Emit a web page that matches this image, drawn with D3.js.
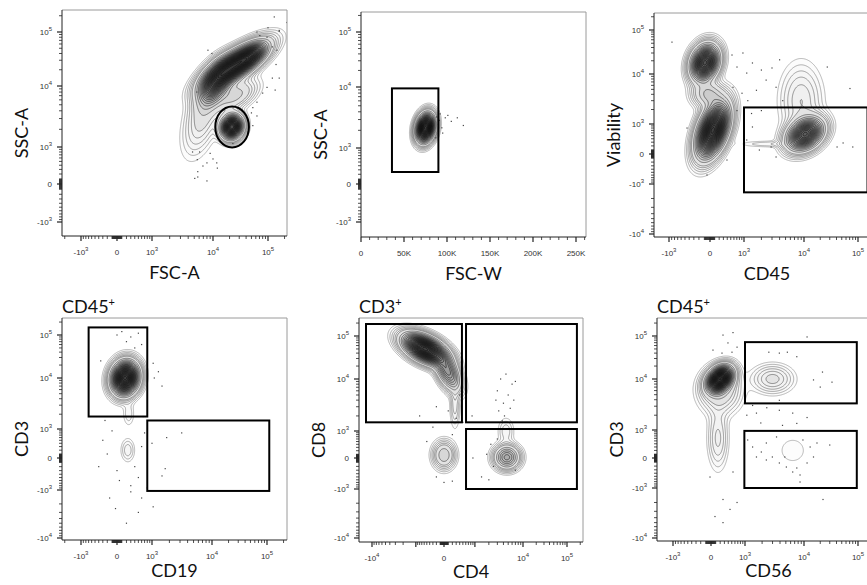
<!DOCTYPE html>
<html>
<head>
<meta charset="utf-8">
<script src="https://cdn.jsdelivr.net/npm/d3@7"></script>
<style>
  body { margin: 0; background: #fff; }
  svg { display: block; }
</style>
</head>
<body>
<div id="chart"></div>
<script>
// ---------- data ----------
const xLabels = ["FSC-A", "FSC-W", "CD45", "CD19", "CD4", "CD56"];
const yLabels = ["SSC-A", "SSC-A", "Viability", "CD3", "CD8", "CD3"];
const parentGates = [null, null, null, "CD45", "CD3", "CD45"];

const logTicksX = [-1e3, 0, 1e3, 1e4, 1e5];
const logTicksY = [-1e3, 0, 1e3, 1e4, 1e5];
const logTicksWide = [-1e4, -1e3, 0, 1e3, 1e4, 1e5];
const cd4Ticks = [-1e4, 0, 1e4, 1e5];
const fscWTicks = [0, 50000, 100000, 150000, 200000, 250000];

// populations: [x, y, spreadX, spreadY, correlation, peak]
// spreads are in decades of the axis (FSC-W: in units of 10K)
const popsScatter = [
  [2.5e4, 2.4e4, 0.27, 0.2, 0.75, 1.0],
  [1.1e4, 1.1e4, 0.15, 0.2, 0.5, 0.5],
  [7.0e3, 3.5e3, 0.18, 0.36, 0.5, 0.08],
  [5.0e4, 3.6e4, 0.13, 0.11, 0.5, 0.3],
  [2.5e4, 7.0e3, 0.2, 0.15, 0.5, 0.12],
  [2.2e4, 2.2e3, 0.10, 0.11, 0.1, 0.9]
];
const popsSinglets = [
  [7.5e4, 2.2e3, 0.6, 0.13, 0.2, 1.0]
];
const popsViability = [
  [-90, 1.8e4, 0.13, 0.2, 0.2, 0.8],
  [-30, 4.0e3, 0.15, 0.15, 0.0, 0.15],
  [60, 700, 0.15, 0.3, 0.45, 1.0],
  [1.05e4, 550, 0.17, 0.18, 0.3, 0.7],
  [9.0e3, 3.0e3, 0.2, 0.42, 0.0, 0.06],
  [2.5e3, 250, 0.3, 0.04, 0.0, 0.02]
];
const popsCd19 = [
  [170, 1e4, 0.125, 0.18, 0.1, 1.0],
  [250, 2e3, 0.06, 0.15, 0.0, 0.02],
  [230, 200, 0.07, 0.14, 0.0, 0.03]
];
const popsCd4 = [
  [-565, 5.0e4, 0.25, 0.16, -0.5, 1.0],
  [94, 1.45e4, 0.15, 0.2, -0.5, 0.35],
  [267, 3.2e3, 0.06, 0.25, 0.0, 0.04],
  [0, 80, 0.13, 0.15, 0.0, 0.14],
  [4.7e3, 20, 0.15, 0.13, 0.0, 0.28],
  [4.5e3, 1e3, 0.1, 0.15, 0.0, 0.03]
];
const popsCd56 = [
  [195, 1e4, 0.12, 0.14, 0.3, 1.0],
  [150, 600, 0.1, 0.35, 0.0, 0.05],
  [195, 6e3, 0.2, 0.25, 0.0, 0.1],
  [3e3, 1e4, 0.2, 0.16, 0.0, 0.07],
  [6.5e3, 200, 0.2, 0.22, 0.0, 0.012]
];

// single events outside the contours [x, y]
const eventsScatter = [
  [1.3e5, 1.9e5], [2.2e5, 1.5e5], [6.3e4, 1e5], [9.6e4, 8e4], [1.6e5, 1.07e5], [1.2e5, 5.3e4],
  [1.4e5, 2.5e4], [1.2e5, 1.4e4], [9.6e4, 9.5e3], [8e4, 7.7e3], [6.3e4, 5.5e3], [5.3e4, 4.5e3],
  [5e4, 3.7e3], [8.3e3, 4.6e4], [6.1e3, 800], [5.6e3, 550], [6.9e3, 380], [5.1e3, 110], [8e3, 60],
  [1.2e4, 330], [1.17e4, 460], [5.7e3, 250], [9e3, 750], [2.3e4, 1.15e3], [4.3e4, 1.8e3],
  [5.3e4, 2.3e3], [6.3e4, 3.3e3], [1e5, 1.2e5], [1.6e5, 1.03e5], [7.1e4, 8.6e4], [1.45e5, 4.6e4],
  [1.6e5, 1.4e4], [1.35e5, 8.6e3], [5.5e3, 8e3], [9.6e3, 4e4], [4.7e3, 800], [5.7e3, 138],
  [8e3, 460], [1e4, 570]
];
const eventsSinglets = [
  [9.2e4, 3.7e3], [9.8e4, 3.2e3], [1.01e5, 3.5e3], [1.12e5, 3.2e3], [1.19e5, 2.4e3], [9.4e4, 2.2e3],
  [9.5e4, 1.8e3], [9.1e4, 2.9e3], [1.05e5, 2.8e3], [8.8e4, 3.3e3], [9.0e4, 2.5e3], [8.7e4, 1.5e3]
];
const eventsViability = [
  [538, 2.7e4], [950, 3e4], [707, 1.44e4], [1.12e3, 1.05e4], [1.41e3, 1.78e4], [2e3, 1.23e4],
  [2.4e3, 7.6e3], [3e3, 1.37e4], [4e3, 2.1e4], [3.5e3, 5.5e3], [4.5e3, 3e3], [1.65e3, 4.8e3],
  [1.17e3, 3e3], [909, 4.2e3], [707, 1.9e3], [1.36e3, 1.66e3], [2e3, 1.9e3], [1.41e3, 849],
  [1.12e3, 363], [1.85e3, 96], [2.9e3, 172], [3.5e3, -72], [4.1e4, 172], [5.3e4, 278], [8e4, 172],
  [7.1e4, 5.2e3], [2.7e4, 1.44e4], [-888, 5.3e4], [-450, 800], [-53, -595], [392, -147], [570, 5.5e3]
];
const eventsCd19 = [
  [0, 1e5], [300, 9e4], [500, 1.1e5], [200, 7e4], [400, 5e4], [600, 6e4], [100, 1.2e5], [-350, 2.5e4],
  [1.05e3, 2.2e4], [1.3e3, 1.4e4], [1.5e3, 7e3], [1.1e3, 1e4], [-300, 500], [-200, 100], [0, -300],
  [50, -600], [400, -200], [600, 300], [700, 800], [500, -500], [300, -800], [-100, 900], [3.2e3, 800],
  [1.8e3, 600], [1e3, 400], [1.7e3, -250], [1.5e3, -450], [300, -1.1e3], [600, -1.5e3], [-30, -2.5e3],
  [500, -3e3], [1.05e3, -2.3e3], [-250, 1.5e3], [650, 1.8e3], [800, -900], [-400, -200], [-150, -1.5e3],
  [200, -5e3]
];
const eventsCd4 = [
  [3.5e3, 1e4], [4.5e3, 1.3e4], [6e3, 8e3], [3e3, 6e3], [5e3, 5e3], [4e3, 3.5e3], [6.5e3, 4e3],
  [3.2e3, 2.5e3], [5.5e3, 2.8e3], [4.2e3, 2e3], [7e3, 9e3], [3.8e3, 1.6e3], [2.8e3, 4e3], [860, 2e3],
  [-200, 3e3], [100, 2.5e3], [300, 1.8e3], [500, 1.5e3], [-300, 1.2e3], [200, 800], [-500, 500],
  [-800, 2e3], [600, 3.5e3], [400, 5e3], [1.8e3, 100], [2.2e3, 400], [2.5e3, -200], [900, 0],
  [2e3, -600], [3e3, 600], [7e3, -300], [1.4e3, -500], [0, -700], [-200, -500], [200, -650]
];
const eventsCd56 = [
  [266, 1.05e5], [538, 1.2e5], [392, 6.9e4], [673, 5.5e4], [242, 4e4], [42, 4.7e4], [507, 4.2e4],
  [1.14e4, 9.5e4], [2.6e3, 4.2e4], [3.9e3, 4e4], [5.3e3, 4.2e4], [7.6e3, 3.3e4], [1.5e4, 9.6e3],
  [2.2e4, 1.45e4], [3.3e4, 8.7e3], [2e4, 7e3], [3.9e3, 3.9e3], [1.37e3, 3.1e3], [2.4e3, 2.8e3],
  [3.9e3, 2.5e3], [6.5e3, 2.2e3], [1.14e4, 1.8e3], [1.08e3, 2e3], [1.9e3, 1.4e3], [4.4e3, 1.25e3],
  [7.6e3, 1.37e3], [1.6e3, 2.2e3], [1.12e3, 534], [1.37e3, 299], [1.94e3, 157], [2.36e3, 426],
  [2.98e3, 26], [3.9e3, -121], [5.1e3, -224], [7.6e3, -250], [1.14e4, -121], [1.5e4, 26],
  [1.3e4, 299], [1.74e4, 426], [9.6e3, 534], [3.5e3, 655], [6.5e3, -363], [8.6e3, -456], [3e4, 360],
  [4.8e3, 26], [2.36e3, -48], [1.6e3, 26], [266, -1.74e3], [449, -2.75e3], [85, -3.8e3],
  [266, -5e3], [673, -2e3], [2.25e4, -1.74e3], [8.6e3, -715], [-19, -525], [538, -363]
];

// gates [x0, x1, y0, y1] in data units
const gatesScatter = [[1.1e4, 4.5e4, 980, 4.7e3]];          // drawn as an ellipse
const gatesSinglets = [[3.6e4, 9.0e4, 250, 9.5e3]];
const gatesViability = [[1e3, 1.5e5, -1.5e3, 2.2e3]];
const gatesCd19 = [[-700, 800, 1.8e3, 1.5e5], [800, 1.1e5, -1.05e3, 1.5e3]];
const gatesCd4 = [[-1.36e4, 470, 1.5e3, 1.9e5], [610, 1.68e5, 1.5e3, 1.9e5], [610, 1.68e5, -1e3, 1.1e3]];
const gatesCd56 = [[1e3, 9.5e4, 3.4e3, 7.2e4], [970, 9.5e4, -1e3, 950]];

// ---------- layout ----------
const W = 867, H = 585;
const panels = [
  { frame: [62, 10, 287, 236], pops: popsScatter, events: eventsScatter, gates: gatesScatter, ellipse: true, titleDy: 43,
    x: { anchors: [[-1e3, 81], [0, 117], [1e3, 152], [1e4, 213], [1e5, 268]], labels: logTicksX },
    y: { anchors: [[-1e3, 222], [0, 184], [1e3, 147], [1e4, 86], [1e5, 32]], labels: logTicksY } },
  { frame: [361, 12, 586, 237], pops: popsSinglets, events: eventsSinglets, gates: gatesSinglets, titleDy: 43,
    x: { linear: [[0, 361], [250000, 576]], labels: fscWTicks },
    y: { anchors: [[-1e3, 222], [0, 184], [1e3, 148], [1e4, 87], [1e5, 32]], labels: logTicksY } },
  { frame: [654, 13, 880, 237], pops: popsViability, events: eventsViability, gates: gatesViability, titleDy: 43,
    x: { anchors: [[-1e3, 669], [0, 710], [1e3, 744], [1e4, 804], [1e5, 858]], labels: logTicksX },
    y: { anchors: [[-1e4, 234], [-1e3, 184], [0, 154], [1e3, 124], [1e4, 74], [1e5, 30]], labels: logTicksWide } },
  { frame: [62, 318, 287, 540], pops: popsCd19, events: eventsCd19, gates: gatesCd19, titleDy: 37,
    x: { anchors: [[-1e3, 81], [0, 117], [1e3, 152], [1e4, 212], [1e5, 267]], labels: logTicksX },
    y: { anchors: [[-1e4, 538], [-1e3, 490], [0, 458], [1e3, 429], [1e4, 378], [1e5, 335]], labels: logTicksWide } },
  { frame: [359, 318, 583, 542], pops: popsCd4, events: eventsCd4, gates: gatesCd4, titleDy: 36,
    x: { anchors: [[-1e4, 372], [0, 444], [1e4, 523], [1e5, 567]], labels: cd4Ticks },
    y: { anchors: [[-1e4, 538], [-1e3, 489], [0, 458], [1e3, 431], [1e4, 379], [1e5, 336]], labels: logTicksWide } },
  { frame: [657, 318, 880, 541], pops: popsCd56, events: eventsCd56, gates: gatesCd56, titleDy: 36,
    x: { anchors: [[-1e3, 673], [0, 711], [1e3, 745], [1e4, 804], [1e5, 858]], labels: logTicksX },
    y: { anchors: [[-1e4, 538], [-1e3, 488], [0, 458], [1e3, 430], [1e4, 379], [1e5, 336]], labels: logTicksWide } }
];

const C = 500;                      // biexponential (asinh) width constant
const levels = [0.008, 0.014, 0.022, 0.032, 0.045].concat(d3.range(0.06, 1.4, 0.04));
const levelColor = d3.scaleLog().domain([0.008, 0.06, 0.4]).range(["#8a8a8a", "#4a4a4a", "#080808"]).clamp(true);

function makeScale(spec) {
  if (spec.linear) {
    const s = d3.scaleLinear().domain(spec.linear.map(a => a[0])).range(spec.linear.map(a => a[1]));
    s.decade = Math.abs(s(1e4) - s(0));
    s.isLinear = true;
    return s;
  }
  const t = v => Math.asinh(v / C);
  const lin = d3.scaleLinear().domain(spec.anchors.map(a => t(a[0]))).range(spec.anchors.map(a => a[1]));
  const s = v => lin(t(v));
  s.decade = Math.abs(s(1e4) - s(1e3));
  return s;
}

function densityGrid(p, sx, sy) {
  const [x0, y0, x1, y1] = p.frame;
  const nx = Math.ceil(x1 - x0), ny = Math.ceil(y1 - y0);
  const g = p.pops.map(([x, y, a, b, r, w]) => ({ cx: sx(x), cy: sy(y), a: a * sx.decade, b: b * sy.decade, r, w }));
  const vals = new Float64Array(nx * ny);
  for (let j = 0; j < ny; j++) {
    for (let i = 0; i < nx; i++) {
      const X = x0 + i + 0.5, Y = y0 + j + 0.5;
      let v = 0;
      for (const k of g) {
        const dx = (X - k.cx) / k.a, dy = (k.cy - Y) / k.b;
        v += k.w * Math.exp(-(dx * dx - 2 * k.r * dx * dy + dy * dy) / (2 * (1 - k.r * k.r)));
      }
      vals[j * nx + i] = v;
    }
  }
  return { vals, nx, ny };
}

function tickLabel(sel, v, linear) {
  if (v === 0) { sel.append("tspan").text("0"); return; }
  if (linear) { sel.append("tspan").text(v / 1000 + "K"); return; }
  sel.append("tspan").text((v < 0 ? "-" : "") + "10");
  sel.append("tspan").attr("dy", -4).attr("font-size", 6).text(Math.round(Math.log10(Math.abs(v))));
}

function axisTicks(s, lo, hi) {
  const out = [];
  if (s.isLinear) {
    for (let v = 0; v <= 260000; v += 10000) out.push({ v, major: v % 50000 === 0 });
  } else {
    out.push({ v: 0, major: true });
    for (let k = 1; k <= 5; k++) {
      for (let m = 1; m <= 9; m++) {
        const v = m * Math.pow(10, k);
        out.push({ v, major: m === 1 && k >= 3 });
        out.push({ v: -v, major: m === 1 && k >= 3 });
      }
    }
  }
  return out.filter(d => { const p = s(d.v); return p >= lo && p <= hi; });
}

const svg = d3.select("#chart").append("svg")
  .attr("width", W).attr("height", H)
  .attr("font-family", "'Liberation Sans', Arial, sans-serif");

panels.forEach((p, idx) => {
  const [x0, y0, x1, y1] = p.frame;
  const sx = makeScale(p.x), sy = makeScale(p.y);
  const g = svg.append("g");

  const clipId = "clip" + idx;
  g.append("clipPath").attr("id", clipId)
    .append("rect").attr("x", x0).attr("y", y0).attr("width", x1 - x0).attr("height", y1 - y0);

  // contour plot
  const { vals, nx, ny } = densityGrid(p, sx, sy);
  const contours = d3.contours().size([nx, ny]).thresholds(levels)(vals);
  const path = d3.geoPath(d3.geoIdentity().translate([x0, y0]));
  const plot = g.append("g").attr("clip-path", `url(#${clipId})`);
  plot.selectAll("path.c").data(contours.filter(c => c.coordinates.length)).join("path")
    .attr("class", "c")
    .attr("d", path)
    .attr("fill", "#000")
    .attr("fill-opacity", d => d.value < 0.05 ? 0.01 : 0.05)
    .attr("stroke", d => levelColor(d.value))
    .attr("stroke-width", 0.6);

  // single events
  plot.selectAll("rect.ev").data(p.events).join("rect")
    .attr("class", "ev")
    .attr("x", d => sx(d[0]) - 0.6).attr("y", d => sy(d[1]) - 0.6)
    .attr("width", 1.2).attr("height", 1.2)
    .attr("fill", "#444");

  // gates
  if (p.ellipse) {
    plot.selectAll("ellipse").data(p.gates).join("ellipse")
      .attr("cx", d => (sx(d[0]) + sx(d[1])) / 2).attr("cy", d => (sy(d[2]) + sy(d[3])) / 2)
      .attr("rx", d => Math.abs(sx(d[1]) - sx(d[0])) / 2).attr("ry", d => Math.abs(sy(d[3]) - sy(d[2])) / 2)
      .attr("fill", "none").attr("stroke", "#000").attr("stroke-width", 2);
  } else {
    plot.selectAll("rect.gate").data(p.gates).join("rect")
      .attr("class", "gate")
      .attr("x", d => sx(d[0])).attr("y", d => sy(d[3]))
      .attr("width", d => sx(d[1]) - sx(d[0])).attr("height", d => sy(d[2]) - sy(d[3]))
      .attr("fill", "none").attr("stroke", "#000").attr("stroke-width", 2);
  }

  // frame
  g.append("path")
    .attr("d", `M${x0},${y0}H${x1}V${y1}`)
    .attr("fill", "none").attr("stroke", "#9a9a9a").attr("stroke-width", 1);
  g.append("path")
    .attr("d", `M${x0},${y0}V${y1}H${x1}`)
    .attr("fill", "none").attr("stroke", "#222").attr("stroke-width", 1);

  // ticks
  const xt = axisTicks(sx, x0, Math.min(x1, W));
  g.selectAll("line.xt").data(xt).join("line")
    .attr("x1", d => sx(d.v)).attr("x2", d => sx(d.v))
    .attr("y1", y1).attr("y2", d => y1 + (d.major ? 5 : 3))
    .attr("stroke", "#222").attr("stroke-width", d => d.major ? 1.2 : 0.8);
  const yt = axisTicks(sy, y0, y1);
  g.selectAll("line.yt").data(yt).join("line")
    .attr("y1", d => sy(d.v)).attr("y2", d => sy(d.v))
    .attr("x1", x0).attr("x2", d => x0 - (d.major ? 5 : 3))
    .attr("stroke", "#222").attr("stroke-width", d => d.major ? 1.2 : 0.8);

  // tick labels
  p.x.labels.forEach(v => {
    const t = g.append("text").attr("x", sx(v)).attr("y", y1 + 18.5)
      .attr("text-anchor", "middle").attr("font-size", 8).attr("fill", "#333");
    tickLabel(t, v, sx.isLinear);
  });
  p.y.labels.forEach(v => {
    const t = g.append("text").attr("x", x0 - 10).attr("y", sy(v) + 2.8)
      .attr("text-anchor", "end").attr("font-size", 8).attr("fill", "#333");
    tickLabel(t, v, false);
  });

  // axis titles
  g.append("text")
    .attr("x", (x0 + x1) / 2).attr("y", y1 + p.titleDy)
    .attr("text-anchor", "middle").attr("font-family", "Lato, 'Open Sans', sans-serif")
    .attr("font-size", 18).attr("fill", "#111")
    .text(xLabels[idx]);
  g.append("text")
    .attr("transform", `translate(${x0 - 34},${(y0 + y1) / 2 + 10}) rotate(-90)`)
    .attr("text-anchor", "middle").attr("font-family", "Lato, 'Open Sans', sans-serif")
    .attr("font-size", 18).attr("fill", "#111")
    .text(yLabels[idx]);

  if (parentGates[idx]) {
    const t = g.append("text").attr("x", x0).attr("y", y0 - 5)
      .attr("font-family", "Lato, 'Open Sans', sans-serif").attr("font-size", 18).attr("fill", "#111");
    t.append("tspan").text(parentGates[idx]);
    t.append("tspan").attr("dy", -7).attr("font-size", 11).text("+");
  }
});
</script>
</body>
</html>
